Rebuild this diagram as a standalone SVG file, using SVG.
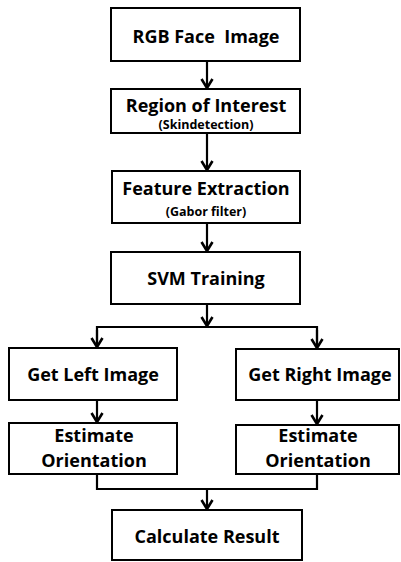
<svg xmlns="http://www.w3.org/2000/svg" width="401" height="562" viewBox="0 0 401 562">
  <style>
    .box { fill: #fff; stroke: #000; stroke-width: 2; }
    .t { font-family: "Open Sans", "Liberation Sans", sans-serif; font-weight: bold; font-size: 18px; text-anchor: middle; fill: #000; }
    .s { font-family: "Open Sans", "Liberation Sans", sans-serif; font-weight: bold; font-size: 12.5px; text-anchor: middle; fill: #000; }
    .ln { fill: none; stroke: #000; stroke-width: 2.2; }
  </style>
  <defs>
    <!-- open chevron head, drawn along +x so orient="auto" turns it with the line -->
    <marker id="ah" markerUnits="userSpaceOnUse" markerWidth="14" markerHeight="14" viewBox="0 0 14 14" refX="12" refY="7" orient="auto">
      <path d="M3,1.5 L12,7 L3,12.5" fill="none" stroke="#000" stroke-width="2.6" stroke-linejoin="miter"/>
    </marker>
  </defs>

  <g id="connectors">
    <line class="ln" x1="207" y1="61" x2="207" y2="88" marker-end="url(#ah)"/>
    <line class="ln" x1="207" y1="133" x2="207" y2="170" marker-end="url(#ah)"/>
    <line class="ln" x1="207" y1="223" x2="207" y2="251" marker-end="url(#ah)"/>
    <line class="ln" x1="207" y1="304" x2="207" y2="326" marker-end="url(#ah)"/>
    <polyline class="ln" points="97,347 97,327 317,327 317,347" />
    <line class="ln" x1="97" y1="330" x2="97" y2="347" marker-end="url(#ah)"/>
    <line class="ln" x1="317" y1="330" x2="317" y2="348" marker-end="url(#ah)"/>
    <line class="ln" x1="97" y1="400" x2="97" y2="422" marker-end="url(#ah)"/>
    <line class="ln" x1="317" y1="400" x2="317" y2="424" marker-end="url(#ah)"/>
    <polyline class="ln" points="97,474 97,489 317,489 317,474" />
    <line class="ln" x1="207" y1="489" x2="207" y2="509" marker-end="url(#ah)"/>
  </g>

  <g id="rgb-face-image">
    <rect class="box" x="111" y="8" width="189" height="53"/>
    <text class="t" x="206" y="43" xml:space="preserve">RGB Face  Image</text>
  </g>
  <g id="region-of-interest">
    <rect class="box" x="111" y="89" width="189" height="44"/>
    <text class="t" x="206" y="112">Region of Interest</text>
    <text class="s" x="206" y="129">(Skindetection)</text>
  </g>
  <g id="feature-extraction">
    <rect class="box" x="112" y="171" width="188" height="52"/>
    <text class="t" x="206" y="195">Feature Extraction</text>
    <text class="s" x="206" y="216">(Gabor filter)</text>
  </g>
  <g id="svm-training">
    <rect class="box" x="111" y="252" width="189" height="52"/>
    <text class="t" x="206" y="285">SVM Training</text>
  </g>
  <g id="get-left-image">
    <rect class="box" x="9" y="348" width="168" height="52"/>
    <text class="t" x="93" y="381">Get Left Image</text>
  </g>
  <g id="get-right-image">
    <rect class="box" x="236" y="349" width="163" height="51"/>
    <text class="t" x="320" y="381">Get Right Image</text>
  </g>
  <g id="estimate-left">
    <rect class="box" x="9" y="423" width="168" height="51"/>
    <text class="t" x="94" y="442">Estimate</text>
    <text class="t" x="94" y="467">Orientation</text>
  </g>
  <g id="estimate-right">
    <rect class="box" x="236" y="425" width="163" height="49"/>
    <text class="t" x="318" y="442">Estimate</text>
    <text class="t" x="318" y="467">Orientation</text>
  </g>
  <g id="calculate-result">
    <rect class="box" x="112" y="510" width="190" height="50"/>
    <text class="t" x="207" y="543">Calculate Result</text>
  </g>
</svg>
